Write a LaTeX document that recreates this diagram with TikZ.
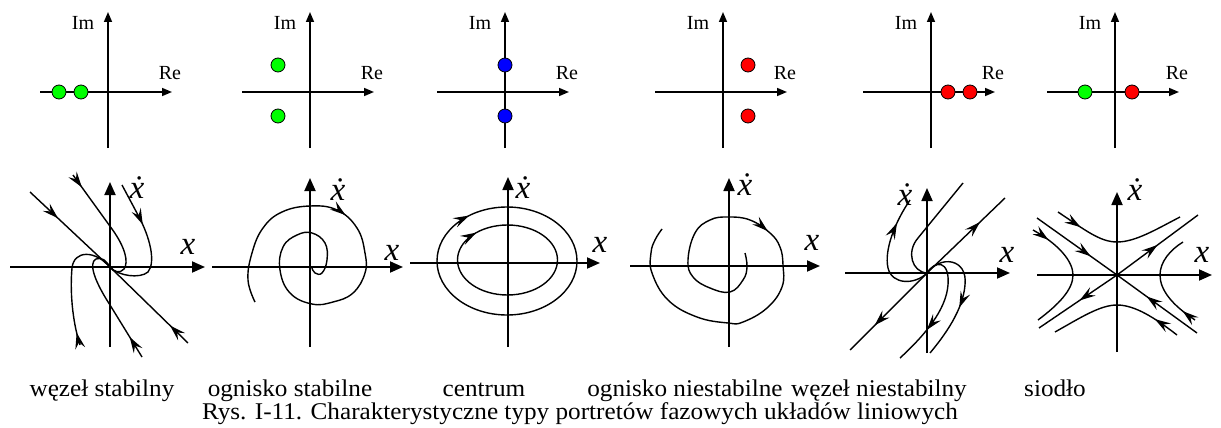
\documentclass[tikz,border=0pt]{standalone}
\usepackage{fontspec}
\setmainfont{Liberation Serif}
\newfontfamily\labelfont{Liberation Serif}[FakeStretch=1.05]
\usetikzlibrary{arrows.meta, decorations.markings}
\definecolor{PoleGreen}{HTML}{00FF00}
\definecolor{PoleBlue}{HTML}{0000FF}
\definecolor{PoleRed}{HTML}{FF0000}

\tikzset{
  axis/.style={line width=1.6pt, -{Triangle[length=10pt,width=8pt]}},
  phaseaxis/.style={line width=1.8pt, -{Triangle[length=13pt,width=11pt]}},
  traj/.style={line width=1.4pt},
  pole/.style={circle, draw=black, line width=0.8pt, minimum size=14pt, inner sep=0pt},
  flow/.style={postaction={decorate}, decoration={markings,
      mark=at position #1 with {\arrow{Stealth[length=16pt,width=10pt,inset=6pt]}}}},
  planelabel/.style={font=\fontsize{20}{20}\selectfont, inner sep=0pt},
  varlabel/.style={font=\fontsize{33}{33}\selectfont\itshape, inner sep=0pt},
  typelabel/.style={font=\labelfont\fontsize{24}{24}\selectfont, anchor=base, inner sep=0pt},
}

\begin{document}
\begin{tikzpicture}[x=1pt, y=-1pt]
  \useasboundingbox (0,0) rectangle (1221,428);

  % Pole planes
  \foreach \cx/\id in {108/1,310/2,505/3,723/4,931/5,1115/6}{
    \draw[axis] (\cx-68,92) -- (\cx+64,92);
    \draw[axis] (\cx,148) -- (\cx,12);
    \node[planelabel] (im\id) at (\cx-25,23) {Im};
    \node[planelabel] (re\id) at (\cx+62,73) {Re};
  }

  % Poles
  \node[pole, fill=PoleGreen] (p1a) at (59,92) {};
  \node[pole, fill=PoleGreen] (p1b) at (81,92) {};
  \node[pole, fill=PoleGreen] (p2a) at (278,65) {};
  \node[pole, fill=PoleGreen] (p2b) at (278,116) {};
  \node[pole, fill=PoleBlue] (p3a) at (505,65) {};
  \node[pole, fill=PoleBlue] (p3b) at (505,116) {};
  \node[pole, fill=PoleRed] (p4a) at (748,65) {};
  \node[pole, fill=PoleRed] (p4b) at (748,116) {};
  \node[pole, fill=PoleRed] (p5a) at (948,92) {};
  \node[pole, fill=PoleRed] (p5b) at (970,92) {};
  \node[pole, fill=PoleGreen] (p6a) at (1085,92) {};
  \node[pole, fill=PoleRed] (p6b) at (1132,92) {};

  % Phase planes: axes and labels
  \foreach \ox/\oy/\xl/\xr/\yb/\yt/\lx/\ly/\dx/\dy/\id in
    {110/267/10/205/347/182/188/247/137/188/1,
     310/267/212/403/347/178/392/253/338/190/2,
     508/263/410/600/347/177/600/245/523/188/3,
     729/266/630/820/347/178/812/243/745/185/4,
     927/273/845/1010/353/188/1007/255/905/195/5,
     1117/275/1037/1212/352/192/1202/255/1135/190/6}{
    \draw[phaseaxis] (\xl,\oy) -- (\xr,\oy);
    \draw[phaseaxis] (\ox,\yb) -- (\ox,\yt);
    \node[varlabel] (x\id) at (\lx,\ly) {x};
    \node[varlabel] (xdot\id) at (\dx,\dy) {\.x};
  }

  % Stable node
  \draw[traj, flow=0.35] (30,192) -- (110,267);
  \draw[traj, flow=0.23] (188,343) -- (110,267);
  \draw[traj, flow=0.12] (73,175) -- (112,229) .. controls (125,247) and (129,262) .. (124,269)
    .. controls (120,274) and (113,272) .. (110,267);
  \draw[traj, flow=0.33] (122,185) -- (138,215) .. controls (150,237) and (156,262) .. (148,272)
    .. controls (140,279) and (118,276) .. (110,267);
  \draw[traj, flow=0.1] (80,345) .. controls (72,320) and (70,290) .. (72,268)
    .. controls (74,250) and (95,250) .. (110,267);
  \draw[traj, flow=0.18] (142,357) -- (110,305) .. controls (95,282) and (88,263) .. (96,259)
    .. controls (102,256) and (107,262) .. (110,267);

  % Stable focus
  \draw[traj, flow=0.36] plot[smooth, tension=0.7] coordinates {(255,302) (248,280) (252,253)
    (263,228) (282,212) (310,206) (337,210) (357,228) (365,253) (365,273) (353,293) (333,302)
    (312,304) (290,293) (280,270) (283,247) (297,235) (312,233) (325,243) (327,260) (322,273)
    (315,273) (312,268)};

  % Centre
  \draw[traj, flow=0.65] (507,261) ellipse (70 and 54);
  \draw[traj, flow=0.63] (507.5,260) ellipse (50 and 35);

  % Unstable focus
  \draw[traj, flow=0.44] plot[smooth, tension=0.7] coordinates {(745,253) (747,267) (743,280)
    (730,292) (710,288) (693,277) (688,260) (695,233) (710,220) (728,217) (750,220) (770,233)
    (780,247) (783,265) (782,287) (767,308) (743,322) (728,323) (697,317) (668,300) (652,273)
    (651,253) (655,240) (662,229)};

  % Unstable node
  \draw[traj, flow=0.68] (927,273) -- (1005,198);
  \draw[traj, flow=0.68] (927,273) -- (850,350);
  \draw[traj, flow=0.78] (927,273) .. controls (915,285) and (892,285) .. (888,268)
    .. controls (884,250) and (895,222) .. (910,200);
  \draw[traj] (927,273) .. controls (912,272) and (906,252) .. (918,238) -- (963,183);
  \draw[traj, flow=0.7] (927,273) .. controls (935,260) and (950,260) .. (948,285)
    .. controls (946,310) and (925,335) .. (900,358);
  \draw[traj, flow=0.6] (927,273) .. controls (940,255) and (968,258) .. (965,285)
    .. controls (963,310) and (945,335) .. (930,353);

  % Saddle
  \draw[traj, flow=0.67] (1037,218) -- (1117,275);
  \draw[traj, flow=0.63] (1197,333) -- (1117,275);
  \draw[traj, flow=0.5] (1117,275) -- (1198,215);
  \draw[traj, flow=0.48] (1117,275) -- (1039,328);
  \draw[traj, flow=0.2] (1058,212) .. controls (1085,230) and (1100,242) .. (1117,242)
    .. controls (1135,242) and (1155,230) .. (1180,217);
  \draw[traj, flow=0.2] (1177,335) .. controls (1155,318) and (1135,305) .. (1117,305)
    .. controls (1100,305) and (1080,318) .. (1055,332);
  \draw[traj, flow=0.15] (1033,230) .. controls (1060,245) and (1073,262) .. (1073,275)
    .. controls (1073,290) and (1058,305) .. (1038,320);
  \draw[traj, flow=0.15] (1195,320) .. controls (1172,305) and (1160,290) .. (1160,275)
    .. controls (1160,262) and (1170,250) .. (1183,242);

  % Type names and caption
  \node[typelabel] (stablenode) at (102,396) {węzeł stabilny};
  \node[typelabel] (stablefocus) at (290,396) {ognisko stabilne};
  \node[typelabel] (centre) at (484,396) {centrum};
  \node[typelabel] (unstablefocus) at (685,396) {ognisko niestabilne};
  \node[typelabel] (unstablenode) at (879,396) {węzeł niestabilny};
  \node[typelabel] (saddle) at (1055,396) {siodło};
  \node[typelabel] (caption) at (580,419) {Rys. I-11. Charakterystyczne typy portretów fazowych układów liniowych};
\end{tikzpicture}
\end{document}
